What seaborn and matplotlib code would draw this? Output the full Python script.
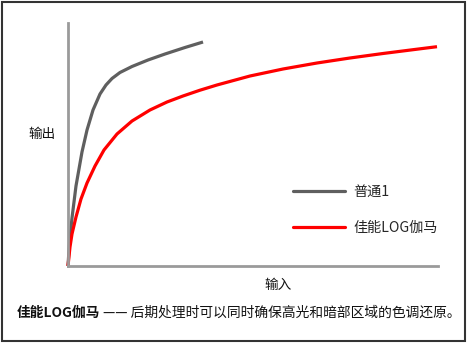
import matplotlib
matplotlib.use("Agg")
import matplotlib.pyplot as plt
import seaborn as sns
import pandas as pd
from matplotlib.patches import Rectangle

# ---- data ----
series_names = ["普通1", "佳能LOG伽马"]
normal_x = [0, 0.27, 0.54, 1.08, 2.16, 3.78, 5.14, 6.76, 8.65, 10.27, 11.89, 14.05, 17.30, 21.62,
            26.22, 31.62, 36.49]
normal_y = [0, 6.58, 11.52, 19.75, 32.92, 46.91, 55.97, 64.20, 70.78, 74.49, 77.16, 79.63, 82.10,
            84.77, 87.24, 89.92, 92.18]
log_x = [0, 0.54, 1.08, 2.16, 3.51, 5.14, 7.30, 9.73, 13.24, 17.30, 22.16, 26.76, 31.08, 35.68,
         40.27, 49.19, 58.11, 67.30, 76.22, 85.14, 94.32, 99.73]
log_y = [0, 7.82, 13.17, 20.16, 27.57, 34.16, 41.15, 47.74, 54.32, 59.67, 64.20, 67.49, 69.96,
         72.35, 74.49, 78.19, 81.07, 83.54, 85.60, 87.45, 89.22, 90.25]
x_label = "输入"
y_label = "输出"
caption_bold = "佳能LOG伽马"
caption_rest = "—— 后期处理时可以同时确保高光和暗部区域的色调还原。"

df = pd.concat([
    pd.DataFrame({"x": normal_x, "y": normal_y, "curve": series_names[0]}),
    pd.DataFrame({"x": log_x, "y": log_y, "curve": series_names[1]}),
], ignore_index=True)

sns.set_style("white")
plt.rcParams['font.family'] = ['Noto Sans CJK SC', 'DejaVu Sans']

W, H = 468, 346
fig = plt.figure(figsize=(W / 100, H / 100), dpi=100)
ax = fig.add_axes([68 / W, 1 - 266 / H, (438 - 68) / W, (266 - 23) / H])

sns.lineplot(data=df, x="x", y="y", hue="curve", hue_order=series_names,
             palette=["#5f5f5f", "#ff0000"], estimator=None, sort=False,
             linewidth=2.3, ax=ax)

ax.set_xlim(0, 100)
ax.set_ylim(0, 100)
ax.set_xticks([])
ax.set_yticks([])
ax.set_xlabel("")
ax.set_ylabel("")
for s in ["top", "right"]:
    ax.spines[s].set_visible(False)
for s in ["left", "bottom"]:
    ax.spines[s].set_color("#9a9a9a")
    ax.spines[s].set_linewidth(2.0)
for ln in ax.lines:
    ln.set_clip_on(False)
    ln.set_solid_capstyle("butt")
    ln.set_solid_joinstyle("round")

sns.move_legend(ax, "upper left", bbox_to_anchor=(293 / W, 1 - 185 / H),
                bbox_transform=fig.transFigure, frameon=False, title=None,
                handlelength=3.7, handletextpad=0.55, labelspacing=1.55,
                borderpad=0, borderaxespad=0, fontsize=10.2)

fig.text(42 / W, 1 - 134 / H, y_label, ha="center", va="center", fontsize=9.8, color="#111111")
fig.text(278 / W, 1 - 285 / H, x_label, ha="center", va="center", fontsize=9.8, color="#111111")

t1 = fig.text(17 / W, 1 - 313 / H, caption_bold, ha="left", va="center",
              fontsize=9.9, fontweight="bold", color="#111111")
fig.canvas.draw()
bb = t1.get_window_extent()
fig.text((bb.x1 + 3) / W, 1 - 313 / H, caption_rest, ha="left", va="center",
         fontsize=9.9, color="#111111")

fig.patches.append(Rectangle((2 / W, 1 - 341 / H), (465 - 2) / W, (341 - 2) / H,
                             transform=fig.transFigure, fill=False,
                             edgecolor="#333333", linewidth=1.5))

fig.savefig("out.png", dpi=100)
